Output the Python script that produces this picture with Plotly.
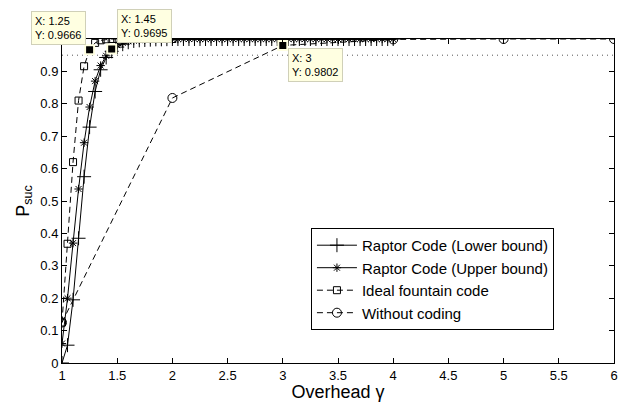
import plotly.graph_objects as go

# ---- data ----
x_raptor = [round(1.0 + 0.05 * i, 2) for i in range(61)]  # 1.00 .. 4.00
y_lower_head = [0.0, 0.055, 0.195, 0.385, 0.575, 0.728, 0.838, 0.905, 0.943, 0.962,
                0.975, 0.984, 0.990, 0.994, 0.996, 0.997, 0.998, 0.999, 0.999, 0.9995]
y_upper_head = [0.06, 0.20, 0.37, 0.537, 0.68, 0.79, 0.87, 0.918, 0.948, 0.9695,
                0.981, 0.988, 0.993, 0.995, 0.997, 0.998, 0.999, 0.9995, 0.9995, 1.0]
y_lower = y_lower_head + [1.0] * (len(x_raptor) - len(y_lower_head))
y_upper = y_upper_head + [1.0] * (len(x_raptor) - len(y_upper_head))

x_ideal = [round(1.0 + 0.05 * i, 2) for i in range(21)]  # 1.00 .. 2.00
y_ideal_head = [0.125, 0.368, 0.62, 0.81, 0.916, 0.9666, 0.988, 0.996, 0.999]
y_ideal = y_ideal_head + [1.0] * (len(x_ideal) - len(y_ideal_head))

x_nocode = [1, 2, 3, 4, 5, 6]
y_nocode = [0.125, 0.818, 0.9802, 0.9987, 1.0, 1.0]

threshold = 0.95
tips_x = [1.25, 1.45, 3]
tips_y = [0.9666, 0.9695, 0.9802]

FONT = "Liberation Sans, Arial, sans-serif"

fig = go.Figure()

fig.add_trace(go.Scatter(
    x=[1, 6], y=[threshold, threshold], mode="lines",
    line=dict(color="#555", width=1, dash="1px,4px"), showlegend=False, hoverinfo="skip"))

fig.add_trace(go.Scatter(
    x=x_raptor, y=y_lower, mode="lines+markers", name="Raptor Code (Lower bound)",
    line=dict(color="black", width=1),
    marker=dict(symbol="cross-thin-open", size=10, line=dict(color="black", width=1))))
fig.add_trace(go.Scatter(
    x=x_raptor, y=y_upper, mode="lines+markers", name="Raptor Code (Upper bound)",
    line=dict(color="black", width=1),
    marker=dict(symbol="asterisk-open", size=7, line=dict(color="black", width=1))))
fig.add_trace(go.Scatter(
    x=x_ideal, y=y_ideal, mode="lines+markers", name="Ideal fountain code",
    line=dict(color="black", width=1, dash="6px,4px"),
    marker=dict(symbol="square-open", size=7, line=dict(color="black", width=1))))
fig.add_trace(go.Scatter(
    x=x_nocode, y=y_nocode, mode="lines+markers", name="Without coding",
    line=dict(color="black", width=1, dash="6px,4px"),
    marker=dict(symbol="circle-open", size=9, line=dict(color="black", width=1))))

# data tip markers
fig.add_trace(go.Scatter(
    x=tips_x, y=tips_y, mode="markers", showlegend=False, hoverinfo="skip",
    marker=dict(symbol="square", size=9, color="black", line=dict(color="#FFFFE1", width=2))))

tip_cfg = [("right", "bottom", -4, 5), ("left", "bottom", 5, 6), ("left", "top", 5, -3)]
for (tx, ty, (xa, ya, xs, ys)) in zip(tips_x, tips_y, tip_cfg):
    fig.add_annotation(
        x=tx, y=ty, xref="x", yref="y", showarrow=False,
        text=f"X: {tx:g}<br>Y: {ty:.4f}", align="left",
        xanchor=xa, yanchor=ya, xshift=xs, yshift=ys,
        font=dict(family=FONT, size=11, color="black"),
        bgcolor="#FFFFE1", bordercolor="#D0D0B8", borderwidth=1, borderpad=3)

axis_common = dict(
    showline=True, linecolor="black", linewidth=1, mirror="allticks",
    ticks="inside", ticklen=5, tickcolor="black", tickwidth=1,
    showgrid=False, zeroline=False,
    tickfont=dict(family=FONT, size=13, color="black"))

fig.update_xaxes(range=[1, 6], dtick=0.5, tick0=1, ticklabeloverflow="allow",
                 title=dict(text="Overhead γ", font=dict(family=FONT, size=18, color="black"), standoff=2),
                 **axis_common)
fig.update_yaxes(range=[0, 1], dtick=0.1, tick0=0,
                 title=dict(text="P<sub>suc</sub>", font=dict(family=FONT, size=18, color="black"), standoff=6),
                 **axis_common)

fig.update_layout(
    width=623, height=402,
    margin=dict(l=62, r=5, t=39, b=39),
    plot_bgcolor="white", paper_bgcolor="white",
    font=dict(family=FONT, color="black"),
    legend=dict(x=0.451, y=0.102, xanchor="left", yanchor="bottom",
                bgcolor="white", bordercolor="black", borderwidth=1,
                font=dict(family=FONT, size=15, color="black"),
                tracegroupgap=0, itemwidth=40),
    showlegend=True,
)

fig.write_html("out.html")
